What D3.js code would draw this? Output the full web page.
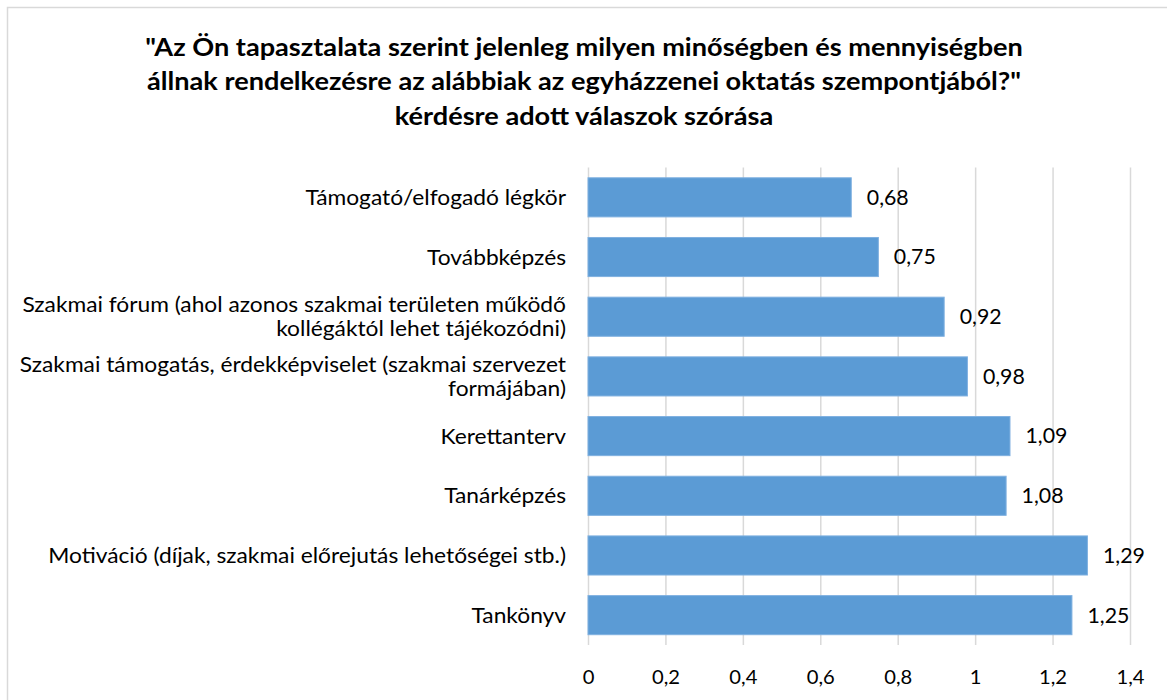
<!DOCTYPE html>
<html><head><meta charset="utf-8">
<script src="https://cdn.jsdelivr.net/npm/d3@7"></script>
<style>body{margin:0;background:#fff}svg{display:block}</style>
</head><body>
<script>
const titleLines = ["\"Az Ön tapasztalata szerint jelenleg milyen minőségben és mennyiségben",
  "állnak rendelkezésre az alábbiak az egyházzenei oktatás szempontjából?\"",
  "kérdésre adott válaszok szórása"];
const categories = [
  ["Támogató/elfogadó légkör"],
  ["Továbbképzés"],
  ["Szakmai fórum (ahol azonos szakmai területen működő", "kollégáktól lehet tájékozódni)"],
  ["Szakmai támogatás, érdekképviselet (szakmai szervezet", "formájában)"],
  ["Kerettanterv"],
  ["Tanárképzés"],
  ["Motiváció (díjak, szakmai előrejutás lehetőségei stb.)"],
  ["Tankönyv"]
];
const values = [0.68, 0.75, 0.92, 0.98, 1.09, 1.08, 1.29, 1.25];
const tickValues = [0, 0.2, 0.4, 0.6, 0.8, 1, 1.2, 1.4];

const W = 1167, H = 700;
const FONT = "Lato, 'Open Sans', sans-serif";
const svg = d3.select("body").append("svg").attr("width", W).attr("height", H);
svg.append("rect").attr("x", 7.5).attr("y", 7.5).attr("width", 1300).attr("height", 900)
  .attr("fill", "#fff").attr("stroke", "#d9d9d9").attr("stroke-width", 1.5);

const x = d3.scaleLinear().domain([0, 1.4]).range([588, 1130]);
const idx = categories.map((d, i) => i);
const y = d3.scaleBand().domain(idx).range([167.5, 645]).paddingInner(0.345).paddingOuter(0.1725);
const fmt = v => d3.format("")(v).replace(".", ",");

// horizontally compress/expand a set of texts so a reference text gets the target width
function fitX(sel, refNode, target) {
  const k = target / refNode.getComputedTextLength();
  sel.each(function () {
    const t = d3.select(this);
    const tx = +t.attr("x") || 0, ty = +t.attr("y") || 0;
    t.attr("x", 0).attr("y", 0).attr("transform", `translate(${tx},${ty}) scale(${k},1)`);
  });
}

// gridlines + tick labels
const ax = svg.append("g").attr("transform", `translate(0,${y.range()[1]})`)
  .call(d3.axisBottom(x).tickValues(tickValues).tickSize(-(y.range()[1] - y.range()[0])).tickFormat(fmt))
  .call(g => g.select(".domain").remove())
  .call(g => g.selectAll(".tick line").attr("stroke", "#d9d9d9").attr("stroke-width", 1.5));
const tickTexts = ax.selectAll(".tick text").attr("font-family", FONT).attr("font-size", 19.5)
  .attr("fill", "#000").attr("dy", "0.35em").attr("y", 32);
fitX(tickTexts, tickTexts.nodes()[1], 28);

// bars
svg.append("g").selectAll("rect").data(values).join("rect")
  .attr("x", x(0)).attr("y", (d, i) => y(i))
  .attr("width", d => x(d) - x(0)).attr("height", y.bandwidth())
  .attr("fill", "#5b9bd5").attr("stroke", "#7fb0e0").attr("stroke-width", 1);

// value labels
const vt = svg.append("g").selectAll("text").data(values).join("text")
  .attr("x", d => x(d) + 15.5).attr("y", (d, i) => y(i) + y.bandwidth() / 2)
  .attr("dy", "0.35em").attr("font-family", FONT).attr("font-size", 21).attr("fill", "#000")
  .text(fmt);
fitX(vt, vt.nodes()[0], 42);

// category labels
const cg = svg.append("g");
let refCat = null;
categories.forEach((lines, i) => {
  const cy = y(i) + y.bandwidth() / 2;
  const lh = 24;
  lines.forEach((ln, j) => {
    const t = cg.append("text").attr("x", 566).attr("y", cy + (j - (lines.length - 1) / 2) * lh)
      .attr("dy", "0.35em").attr("text-anchor", "end")
      .attr("font-family", FONT).attr("font-size", 21.5).attr("fill", "#000").text(ln);
    if (i === 6) refCat = t.node();
  });
});
fitX(cg.selectAll("text"), refCat, 518);

// title
const tg = svg.append("g");
const ty = [47, 81, 116];
titleLines.forEach((t, i) => {
  tg.append("text").attr("x", 584).attr("y", ty[i]).attr("dy", "0.35em").attr("text-anchor", "middle")
    .attr("font-family", FONT).attr("font-weight", "bold").attr("font-size", 25.5).attr("fill", "#000").text(t);
});
const tts = tg.selectAll("text");
fitX(tts, tts.nodes()[0], 878);
</script>
</body></html>
